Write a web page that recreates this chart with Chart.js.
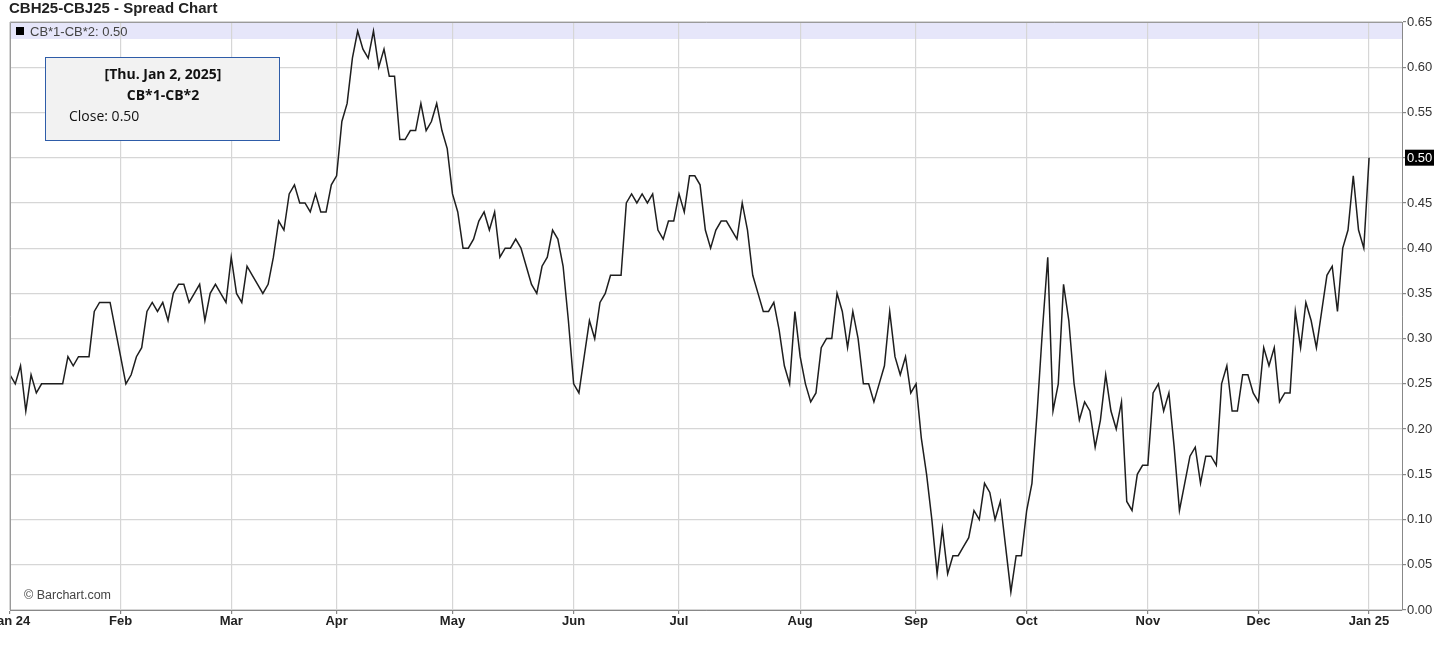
<!DOCTYPE html>
<html>
<head>
<meta charset="utf-8">
<script src="https://cdn.jsdelivr.net/npm/chart.js@4.4.1/dist/chart.umd.min.js"></script>
<style>
html,body{margin:0;padding:0;background:#ffffff;}
canvas{display:block;}
</style>
</head>
<body>
<canvas id="c" width="1456" height="646"></canvas>
<script>
// ---------- texts ----------
const TITLE = 'CBH25-CBJ25 - Spread Chart';
const SERIES_NAME = 'CB*1-CB*2';
const TOOLTIP_DATE = '[Thu. Jan 2, 2025]';
const COPYRIGHT = '\u00A9 Barchart.com';
const MONTH_LABELS = ['Jan 24','Feb','Mar','Apr','May','Jun','Jul','Aug','Sep','Oct','Nov','Dec','Jan 25'];

// ---------- daily closes, one array per month (trading days) ----------
const jan24 = [0.26,0.25,0.27,0.22,0.26,0.24,0.25,0.25,0.25,0.25,0.25,0.28,0.27,0.28,0.28,0.28,0.33,0.34,0.34,0.34,0.31];
const feb24 = [0.28,0.25,0.26,0.28,0.29,0.33,0.34,0.33,0.34,0.32,0.35,0.36,0.36,0.34,0.35,0.36,0.32,0.35,0.36,0.35,0.34];
const mar24 = [0.39,0.35,0.34,0.38,0.37,0.36,0.35,0.36,0.39,0.43,0.42,0.46,0.47,0.45,0.45,0.44,0.46,0.44,0.44,0.47];
const apr24 = [0.48,0.54,0.56,0.61,0.64,0.62,0.61,0.64,0.60,0.62,0.59,0.59,0.52,0.52,0.53,0.53,0.56,0.53,0.54,0.56,0.53,0.51];
const may24 = [0.46,0.44,0.40,0.40,0.41,0.43,0.44,0.42,0.44,0.39,0.40,0.40,0.41,0.40,0.38,0.36,0.35,0.38,0.39,0.42,0.41,0.38,0.32];
const jun24 = [0.25,0.24,0.28,0.32,0.30,0.34,0.35,0.37,0.37,0.37,0.45,0.46,0.45,0.46,0.45,0.46,0.42,0.41,0.43,0.43];
const jul24 = [0.46,0.44,0.48,0.48,0.47,0.42,0.40,0.42,0.43,0.43,0.42,0.41,0.45,0.42,0.37,0.35,0.33,0.33,0.34,0.31,0.27,0.25,0.33];
const aug24 = [0.28,0.25,0.23,0.24,0.29,0.30,0.30,0.35,0.33,0.29,0.33,0.30,0.25,0.25,0.23,0.25,0.27,0.33,0.28,0.26,0.28,0.24];
const sep24 = [0.25,0.19,0.15,0.10,0.04,0.09,0.04,0.06,0.06,0.07,0.08,0.11,0.10,0.14,0.13,0.10,0.12,0.07,0.02,0.06,0.06];
const oct24 = [0.11,0.14,0.22,0.31,0.39,0.22,0.25,0.36,0.32,0.25,0.21,0.23,0.22,0.18,0.21,0.26,0.22,0.20,0.23,0.12,0.11,0.15,0.16];
const nov24 = [0.16,0.24,0.25,0.22,0.24,0.18,0.11,0.14,0.17,0.18,0.14,0.17,0.17,0.16,0.25,0.27,0.22,0.22,0.26,0.26,0.24];
const dec24 = [0.23,0.29,0.27,0.29,0.23,0.24,0.24,0.33,0.29,0.34,0.32,0.29,0.33,0.37,0.38,0.33,0.40,0.42,0.48,0.42,0.40];
const jan25 = [0.50];

// ---------- axis ticks ----------
const Y_TICKS = [0.00,0.05,0.10,0.15,0.20,0.25,0.30,0.35,0.40,0.45,0.50,0.55,0.60,0.65];
const RIGHT_PAD_DAYS = 6.25;

// ---------- derived ----------
const months = [jan24,feb24,mar24,apr24,may24,jun24,jul24,aug24,sep24,oct24,nov24,dec24,jan25];
const closes = [].concat(...months);
const monthStarts = [];
let acc = 0;
months.forEach(m => { monthStarts.push(acc); acc += m.length; });
const points = closes.map((v, i) => ({ x: i, y: v }));
const lastIndex = closes.length - 1;
const lastValue = closes[lastIndex];

const SANS = '"Liberation Sans", Arial, sans-serif';
const OPEN = '"Open Sans", "Noto Sans", sans-serif';

const decor = {
  id: 'decor',
  beforeDraw(chart) {
    const { ctx, chartArea: a } = chart;
    ctx.save();
    ctx.fillStyle = '#e6e6fa';
    ctx.fillRect(a.left, a.top, a.right - a.left, 17);
    ctx.restore();
  },
  afterDatasetsDraw(chart) {
    const { ctx, chartArea: a } = chart;
    ctx.save();
    ctx.strokeStyle = '#9a9a9a';
    ctx.lineWidth = 1;
    ctx.beginPath();
    ctx.moveTo(a.left + 0.5, a.bottom);
    ctx.lineTo(a.left + 0.5, a.top + 0.5);
    ctx.lineTo(a.right, a.top + 0.5);
    ctx.stroke();
    ctx.restore();
  },
  afterDraw(chart) {
    const { ctx, chartArea: a } = chart;
    const y = chart.scales.y;
    ctx.save();
    // title
    ctx.fillStyle = '#222';
    ctx.textAlign = 'left';
    ctx.textBaseline = 'alphabetic';
    ctx.font = 'bold 15px ' + SANS;
    ctx.fillText(TITLE, 9, 13);
    // legend band content
    ctx.fillStyle = '#000';
    ctx.fillRect(a.left + 6, a.top + 5, 8, 8);
    ctx.fillStyle = '#444';
    ctx.font = '13px ' + SANS;
    ctx.fillText(SERIES_NAME + ': ' + lastValue.toFixed(2), a.left + 20, a.top + 14);
    // tooltip box
    ctx.fillStyle = '#f2f2f2';
    ctx.fillRect(45.5, 57.5, 234, 83);
    ctx.strokeStyle = '#2e5ca8';
    ctx.lineWidth = 1;
    ctx.strokeRect(45.5, 57.5, 234, 83);
    ctx.fillStyle = '#111';
    ctx.textAlign = 'center';
    ctx.font = 'bold 14px ' + OPEN;
    ctx.fillText(TOOLTIP_DATE, 163, 79);
    ctx.fillText(SERIES_NAME, 163, 100);
    ctx.textAlign = 'left';
    ctx.font = '14px ' + OPEN;
    ctx.fillText('Close: ' + lastValue.toFixed(2), 69, 121);
    // last value marker
    const py = y.getPixelForValue(lastValue);
    ctx.fillStyle = '#000';
    ctx.fillRect(a.right + 3, py - 8, 29, 16);
    ctx.fillStyle = '#fff';
    ctx.font = '13px ' + SANS;
    ctx.textBaseline = 'middle';
    ctx.fillText(lastValue.toFixed(2), a.right + 5, py + 0.5);
    // copyright
    ctx.fillStyle = '#444';
    ctx.textBaseline = 'alphabetic';
    ctx.font = '12.5px ' + SANS;
    ctx.fillText(COPYRIGHT, a.left + 14, a.bottom - 11);
    ctx.restore();
  }
};

new Chart(document.getElementById('c'), {
  type: 'line',
  data: {
    datasets: [{
      label: SERIES_NAME,
      data: points,
      borderColor: '#1e1e1e',
      borderWidth: 1.5,
      pointRadius: 0,
      pointHoverRadius: 0,
      tension: 0,
      fill: false
    }]
  },
  options: {
    responsive: false,
    animation: false,
    events: [],
    layout: { padding: { top: 22, left: 10, right: 0, bottom: 0 } },
    plugins: { legend: { display: false }, tooltip: { enabled: false }, title: { display: false } },
    scales: {
      x: {
        type: 'linear',
        min: 0,
        max: lastIndex + RIGHT_PAD_DAYS,
        afterBuildTicks: s => { s.ticks = monthStarts.map(v => ({ value: v })); },
        afterFit: s => { s.height = 36; s.paddingLeft = 0; s.paddingRight = 0; },
        ticks: {
          autoSkip: false,
          maxRotation: 0,
          padding: 0,
          color: '#222',
          font: { family: SANS, size: 13, weight: 'bold' },
          callback: v => { const k = monthStarts.indexOf(v); return k >= 0 ? MONTH_LABELS[k] : ''; }
        },
        grid: { color: '#d6d6d6', lineWidth: 1.2, tickLength: 4, tickColor: '#888', drawTicks: true },
        border: { display: true, color: '#888', width: 1 }
      },
      y: {
        type: 'linear',
        position: 'right',
        min: 0,
        max: 0.65,
        afterBuildTicks: s => { s.ticks = Y_TICKS.map(v => ({ value: v })); },
        afterFit: s => { s.width = 54; s.paddingTop = 0; s.paddingBottom = 0; },
        ticks: {
          padding: 1,
          color: '#333',
          font: { family: SANS, size: 13 },
          callback: v => Number(v).toFixed(2)
        },
        grid: { color: '#d6d6d6', lineWidth: 1.2, tickLength: 4, tickColor: '#888', drawTicks: true },
        border: { display: true, color: '#888', width: 1 }
      }
    }
  },
  plugins: [decor]
});
</script>
</body>
</html>
